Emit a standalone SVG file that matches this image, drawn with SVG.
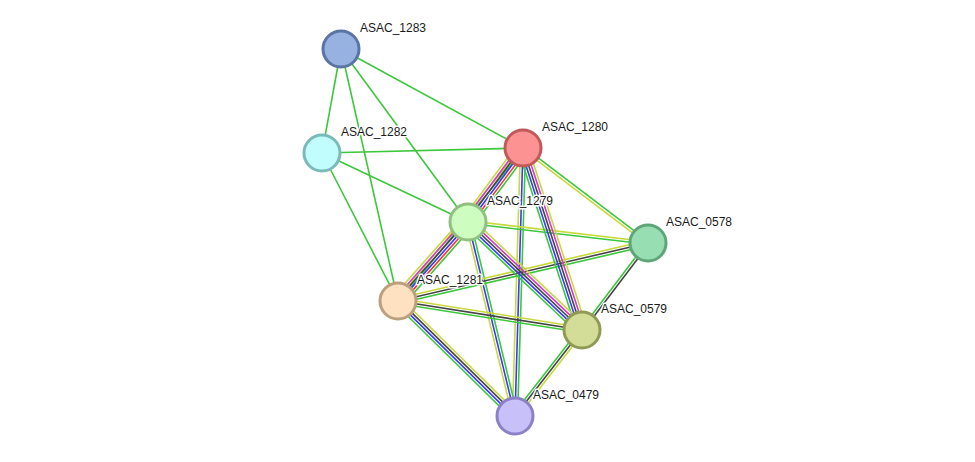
<svg xmlns="http://www.w3.org/2000/svg" width="975" height="462" viewBox="0 0 975 462">
<style>
line{stroke-width:1.6;fill:none}
.g{stroke:#3dc73d}.y{stroke:#c8d93c}.k{stroke:#454545}.b{stroke:#3a3af5}.m{stroke:#d03ad0}.r{stroke:#f03838}
.node circle{stroke-width:3}
text{font-family:"Liberation Sans",Arial,sans-serif;font-size:12px;fill:#1a1a1a;stroke:#fff;stroke-width:3;paint-order:stroke;stroke-linejoin:round}
</style>
<rect width="975" height="462" fill="#fff"/>
<g id="connectors">
<g transform="translate(341,49) rotate(100.35)"><line class="g" x1="0" y1="0" x2="105.7" y2="0"/></g>
<g transform="translate(341,49) rotate(77.25)"><line class="g" x1="0" y1="0" x2="258.4" y2="0"/></g>
<g transform="translate(341,49) rotate(53.72)"><line class="g" x1="0" y1="0" x2="214.6" y2="0"/></g>
<g transform="translate(341,49) rotate(28.55)"><line class="g" x1="0" y1="0" x2="207.2" y2="0"/></g>
<g transform="translate(322,153) rotate(-1.42)"><line class="g" x1="0" y1="0" x2="201.1" y2="0"/></g>
<g transform="translate(322,153) rotate(25.3)"><line class="g" x1="0" y1="0" x2="161.5" y2="0"/></g>
<g transform="translate(322,153) rotate(62.82)"><line class="g" x1="0" y1="0" x2="166.4" y2="0"/></g>
<!-- 1280-1281 -->
<g transform="translate(523,148) rotate(129.25)"><line class="g" x1="0" y1="-1.3" x2="197.6" y2="-1.3"/><line class="y" x1="0" y1="1.3" x2="197.6" y2="1.3"/></g>
<!-- 1280-0578 -->
<g transform="translate(523,148) rotate(37.23)"><line class="g" x1="0" y1="-1.3" x2="157" y2="-1.3"/><line class="y" x1="0" y1="1.3" x2="157" y2="1.3"/></g>
<!-- 1280-0479 -->
<g transform="translate(523,148) rotate(91.71)"><line class="g" x1="0" y1="-2.6" x2="268.1" y2="-2.6"/><line class="b" x1="0" y1="0" x2="268.1" y2="0"/><line class="y" x1="0" y1="2.6" x2="268.1" y2="2.6"/></g>
<!-- 1279-0479 -->
<g transform="translate(468,222) rotate(76.38)"><line class="g" x1="0" y1="-2.6" x2="199.6" y2="-2.6"/><line class="b" x1="0" y1="0" x2="199.6" y2="0"/><line class="y" x1="0" y1="2.6" x2="199.6" y2="2.6"/></g>
<!-- 1279-0578 -->
<g transform="translate(468,222) rotate(6.65)"><line class="g" x1="0" y1="1.3" x2="181.2" y2="1.3"/><line class="y" x1="0" y1="-1.3" x2="181.2" y2="-1.3"/></g>
<!-- 1281-0578 -->
<g transform="translate(398,301) rotate(-13.06)"><line class="g" x1="0" y1="2.6" x2="256.6" y2="2.6"/><line class="k" x1="0" y1="0" x2="256.6" y2="0"/><line class="y" x1="0" y1="-2.6" x2="256.6" y2="-2.6"/></g>
<!-- 1281-0579 -->
<g transform="translate(398,301) rotate(8.96)"><line class="g" x1="0" y1="2.6" x2="186.3" y2="2.6"/><line class="k" x1="0" y1="0" x2="186.3" y2="0"/><line class="y" x1="0" y1="-2.6" x2="186.3" y2="-2.6"/></g>
<!-- 1281-0479 -->
<g transform="translate(398,301) rotate(44.5)"><line class="g" x1="0" y1="3.9" x2="164.1" y2="3.9"/><line class="b" x1="0" y1="1.3" x2="164.1" y2="1.3"/><line class="k" x1="0" y1="-1.3" x2="164.1" y2="-1.3"/><line class="y" x1="0" y1="-3.9" x2="164.1" y2="-3.9"/></g>
<!-- 1280-0579 -->
<g transform="translate(523,148) rotate(72.04)"><line class="g" x1="0" y1="5.2" x2="191.3" y2="5.2"/><line class="b" x1="0" y1="2.6" x2="191.3" y2="2.6"/><line class="k" x1="0" y1="0" x2="191.3" y2="0"/><line class="m" x1="0" y1="-2.6" x2="191.3" y2="-2.6"/><line class="y" x1="0" y1="-5.2" x2="191.3" y2="-5.2"/></g>
<!-- 1279-0579 -->
<g transform="translate(468,222) rotate(43.45)"><line class="g" x1="0" y1="5.2" x2="157" y2="5.2"/><line class="b" x1="0" y1="2.6" x2="157" y2="2.6"/><line class="k" x1="0" y1="0" x2="157" y2="0"/><line class="m" x1="0" y1="-2.6" x2="157" y2="-2.6"/><line class="y" x1="0" y1="-5.2" x2="157" y2="-5.2"/></g>
<!-- 1280-1279 -->
<g transform="translate(523,148) rotate(126.62)"><line class="g" x1="0" y1="-6.5" x2="92.2" y2="-6.5"/><line class="r" x1="0" y1="-3.9" x2="92.2" y2="-3.9"/><line class="b" x1="0" y1="-1.3" x2="92.2" y2="-1.3"/><line class="k" x1="0" y1="1.3" x2="92.2" y2="1.3"/><line class="m" x1="0" y1="3.9" x2="92.2" y2="3.9"/><line class="y" x1="0" y1="6.5" x2="92.2" y2="6.5"/></g>
<!-- 1279-1281 -->
<g transform="translate(468,222) rotate(131.54)"><line class="g" x1="0" y1="-6.5" x2="105.6" y2="-6.5"/><line class="r" x1="0" y1="-3.9" x2="105.6" y2="-3.9"/><line class="b" x1="0" y1="-1.3" x2="105.6" y2="-1.3"/><line class="k" x1="0" y1="1.3" x2="105.6" y2="1.3"/><line class="m" x1="0" y1="3.9" x2="105.6" y2="3.9"/><line class="y" x1="0" y1="6.5" x2="105.6" y2="6.5"/></g>
<!-- 0578-0579 -->
<g transform="translate(648,243) rotate(127.18)"><line class="g" x1="0" y1="1.3" x2="109.2" y2="1.3"/><line class="k" x1="0" y1="-1.3" x2="109.2" y2="-1.3"/></g>
<!-- 0579-0479 -->
<g transform="translate(582,330) rotate(127.92)"><line class="g" x1="0" y1="2.6" x2="109" y2="2.6"/><line class="k" x1="0" y1="0" x2="109" y2="0"/><line class="y" x1="0" y1="-2.6" x2="109" y2="-2.6"/></g>
</g>
<g id="ASAC_1283" class="node"><circle cx="341" cy="49" r="18" fill="#97b1e0" stroke="#5a74a4"/><text x="360" y="32">ASAC_1283</text></g>
<g id="ASAC_1282" class="node"><circle cx="322" cy="153" r="18" fill="#c1fdfd" stroke="#7bbaba"/><text x="341" y="136">ASAC_1282</text></g>
<g id="ASAC_1280" class="node"><circle cx="523" cy="148" r="18" fill="#fc9292" stroke="#c05a5a"/><text x="542" y="131">ASAC_1280</text></g>
<g id="ASAC_1279" class="node"><circle cx="468" cy="222" r="18" fill="#cefdc0" stroke="#90c080"/><text x="487" y="205">ASAC_1279</text></g>
<g id="ASAC_0578" class="node"><circle cx="648" cy="243" r="18" fill="#97dfb2" stroke="#5ea678"/><text x="666" y="226">ASAC_0578</text></g>
<g id="ASAC_1281" class="node"><circle cx="398" cy="301" r="18" fill="#fee1c1" stroke="#bca07e"/><text x="417" y="284">ASAC_1281</text></g>
<g id="ASAC_0579" class="node"><circle cx="582" cy="330" r="18" fill="#d3dd97" stroke="#8f9a55"/><text x="601" y="313">ASAC_0579</text></g>
<g id="ASAC_0479" class="node"><circle cx="515" cy="416" r="18" fill="#c8c0f8" stroke="#8c80c8"/><text x="533" y="399">ASAC_0479</text></g>
</svg>
